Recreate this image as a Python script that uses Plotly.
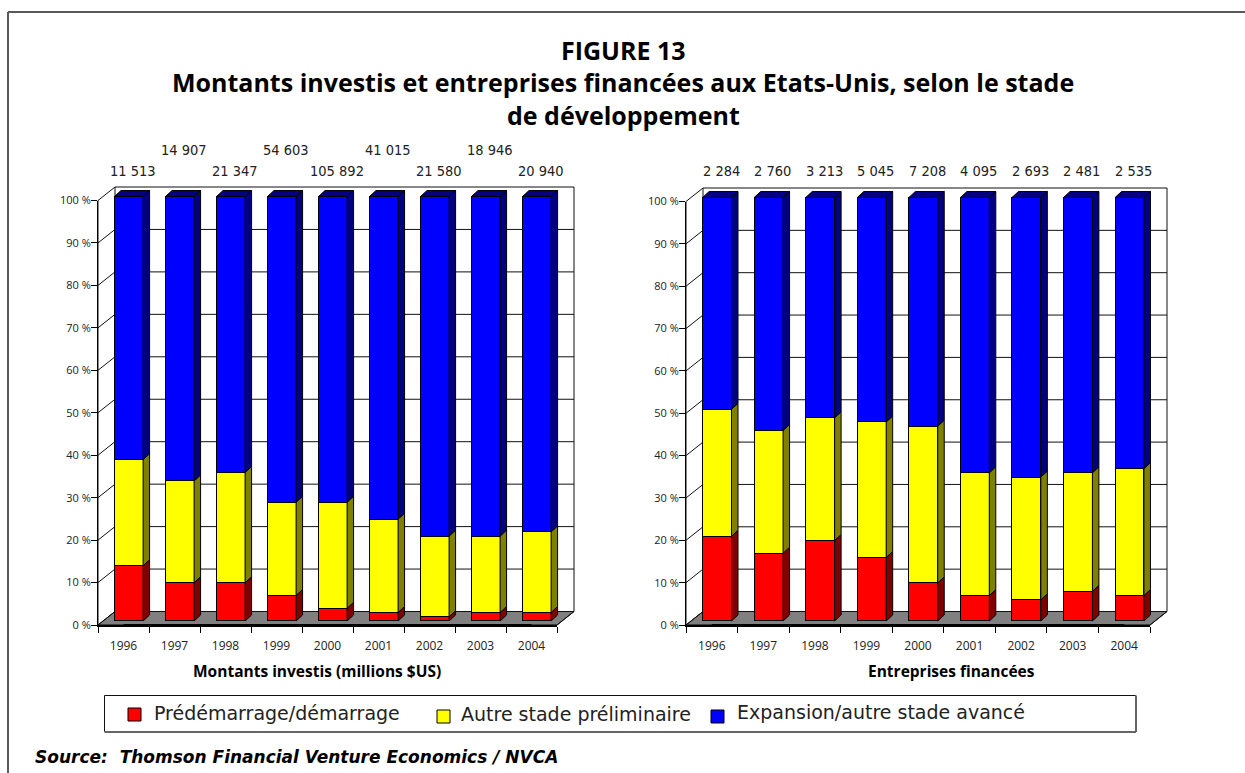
import plotly.graph_objects as go

W, H = 1245, 773
YEARS = ["1996", "1997", "1998", "1999", "2000", "2001", "2002", "2003", "2004"]
SERIES_NAMES = ["Prédémarrage/démarrage", "Autre stade préliminaire", "Expansion/autre stade avancé"]
FRONT_COLORS = ["#ff0000", "#ffff00", "#0000ff"]
SIDE_COLORS = ["#800000", "#808000", "#000080"]

LEFT_RED = [13, 9, 9, 6, 3, 2, 1, 2, 2]
LEFT_YELLOW = [25, 24, 26, 22, 25, 22, 19, 18, 19]
LEFT_BLUE = [62, 67, 65, 72, 72, 76, 80, 80, 79]
LEFT_TOTALS = ["11 513", "14 907", "21 347", "54 603", "105 892", "41 015", "21 580", "18 946", "20 940"]

RIGHT_RED = [20, 16, 19, 15, 9, 6, 5, 7, 6]
RIGHT_YELLOW = [30, 29, 29, 32, 37, 29, 29, 28, 30]
RIGHT_BLUE = [50, 55, 52, 53, 54, 65, 66, 65, 64]
RIGHT_TOTALS = ["2 284", "2 760", "3 213", "5 045", "7 208", "4 095", "2 693", "2 481", "2 535"]

Y_TICKS = list(range(0, 101, 10))
Y_LABELS = [f"{t} %" for t in Y_TICKS]
TICK_FONT = "Open Sans"
TOTAL_FONT = "DejaVu Sans Condensed"
TEXT_FONT = "Open Sans"
INK = "#222222"

fig = go.Figure()
shapes, annotations = [], []


def dx(a, b):
    return [a / W, b / W]


def dy(top, bottom):
    return [1 - bottom / H, 1 - top / H]


def add_chart(first, x0, x1, y100, series, totals, xtitle, xtitle_x, stagger):
    n = len(YEARS)
    step = (x1 - x0) / n
    y0 = 625
    scale = (y0 - y100) / 100
    wall_dx, wall_dy = 17, 13.5
    bar_dx, bar_dy = 5.3, 4
    depth_x, depth_y = 6.5, 6
    bar_w = 0.56

    ids = [first, first + 1, first + 2]
    xn = [f"x{i}" for i in ids]
    yn = [f"y{i}" for i in ids]

    wall_left = -0.5 - wall_dx / step
    wall_low = -wall_dy / scale
    pad = 1.5
    fig.update_layout({
        f"xaxis{ids[0]}": dict(domain=dx(x0 - pad, x1 + wall_dx + pad),
                               range=[wall_left - pad / step, n - 0.5 + pad / step],
                               visible=False, anchor=yn[0]),
        f"yaxis{ids[0]}": dict(domain=dy(y100 - wall_dy - pad, y0 + pad),
                               range=[wall_low - pad / scale, 100 + pad / scale], visible=False, anchor=xn[0]),
    })
    back_l, back_r = wall_left + wall_dx / step, n - 0.5
    front_l, front_r = wall_left, back_r - wall_dx / step
    # floor
    fig.add_trace(go.Scatter(
        x=[back_l, back_r, front_r, front_l, back_l],
        y=[0, 0, wall_low, wall_low, 0], mode="lines", fill="toself", fillcolor="#808080",
        line=dict(color="black", width=1), xaxis=xn[0], yaxis=yn[0], hoverinfo="skip", showlegend=False))
    # walls and gridlines
    gx, gy = [], []
    for t in Y_TICKS:
        gx += [front_l, back_l, back_r, None]
        gy += [t + wall_low, t, t, None]
    gx += [back_l, back_l, None, back_r, back_r, None, back_r, front_r, None, front_l, front_l]
    gy += [0, 100, None, 0, 100, None, 0, wall_low, None, wall_low, 100 + wall_low]
    fig.add_trace(go.Scatter(x=gx, y=gy, mode="lines", line=dict(color="#111111", width=1),
                             xaxis=xn[0], yaxis=yn[0], hoverinfo="skip", showlegend=False))

    # bar plane
    top_extra = depth_y / scale + 1
    fig.update_layout({
        f"xaxis{ids[1]}": dict(domain=dx(x0 + bar_dx, x1 + bar_dx), range=[-0.5, n - 0.5], visible=False,
                               anchor=yn[1], type="linear"),
        f"yaxis{ids[1]}": dict(domain=dy(y100 - bar_dy - top_extra * scale, y0 - bar_dy + pad),
                               range=[-pad / scale, 100 + top_extra], visible=False, anchor=xn[1]),
    })
    xs = list(range(n))
    for k, vals in enumerate(series):
        fig.add_trace(go.Bar(x=xs, y=vals, width=bar_w,
                             marker=dict(color=FRONT_COLORS[k], line=dict(color="black", width=1)),
                             name=SERIES_NAMES[k], xaxis=xn[1], yaxis=yn[1], showlegend=False))
    ox, oy = depth_x / step, depth_y / scale
    for k, vals in enumerate(series):
        px, py = [], []
        for i in xs:
            b = sum(s[i] for s in series[:k])
            t = b + vals[i]
            r = i + bar_w / 2
            px += [r, r + ox, r + ox, r, r, None]
            py += [b, b + oy, t + oy, t, b, None]
        fig.add_trace(go.Scatter(x=px, y=py, mode="lines", fill="toself", fillcolor=SIDE_COLORS[k],
                                 line=dict(color="black", width=1), xaxis=xn[1], yaxis=yn[1],
                                 hoverinfo="skip", showlegend=False))
    px, py = [], []
    for i in xs:
        l, r = i - bar_w / 2, i + bar_w / 2
        t = sum(s[i] for s in series)
        px += [l, r, r + ox, l + ox, l, None]
        py += [t, t, t + oy, t + oy, t, None]
    fig.add_trace(go.Scatter(x=px, y=py, mode="lines", fill="toself", fillcolor=SIDE_COLORS[2],
                             line=dict(color="black", width=1), xaxis=xn[1], yaxis=yn[1],
                             hoverinfo="skip", showlegend=False))

    # front plane: axis lines, ticks, tick labels
    fig.update_layout({
        f"xaxis{ids[2]}": dict(domain=dx(x0, x1), type="category", categoryorder="array", categoryarray=YEARS,
                               range=[-0.5, n - 0.5], tickson="boundaries", ticks="outside", ticklen=6,
                               tickcolor="black", showline=True, linecolor="black", linewidth=2, showgrid=False,
                               tickfont=dict(family=TICK_FONT, size=12, color=INK), anchor=yn[2],
                               ticklabelstandoff=9),
        f"yaxis{ids[2]}": dict(domain=dy(y100, y0), range=[0, 100], tickvals=Y_TICKS, ticktext=Y_LABELS,
                               ticks="outside", ticklen=6, tickcolor="black", showline=True, linecolor="black",
                               linewidth=1, showgrid=False, zeroline=False, ticklabelstandoff=-2,
                               tickfont=dict(family=TICK_FONT, size=11, color=INK), anchor=xn[2]),
    })
    fig.add_trace(go.Scatter(x=YEARS, y=[0] * n, mode="lines", line=dict(color="black", width=2),
                             xaxis=xn[2], yaxis=yn[2], hoverinfo="skip", showlegend=False))

    for i, t in enumerate(totals):
        annotations.append(dict(x=i, xref=xn[1], xshift=4, y=1 - (150 if (stagger and i % 2) else 171) / H, yref="paper",
                                text=t, showarrow=False, font=dict(family=TOTAL_FONT, size=14.5, color=INK),
                                xanchor="center", yanchor="middle"))
    annotations.append(dict(x=xtitle_x / W, xref="paper", y=1 - 671 / H, yref="paper", text=f"<b>{xtitle}</b>",
                            showarrow=False, font=dict(family=TEXT_FONT, size=15.5, color="black"),
                            xanchor="center", yanchor="middle"))


add_chart(1, 98, 557, 200.5, [LEFT_RED, LEFT_YELLOW, LEFT_BLUE], LEFT_TOTALS,
          "Montants investis (millions $US)", 317, True)
add_chart(4, 686, 1150, 201.5, [RIGHT_RED, RIGHT_YELLOW, RIGHT_BLUE], RIGHT_TOTALS,
          "Entreprises financées", 951.5, False)

GREY = "#595959"
shapes.append(dict(type="line", xref="paper", yref="paper", x0=8 / W, x1=1, y0=1 - 12 / H, y1=1 - 12 / H,
                   line=dict(color=GREY, width=2)))
shapes.append(dict(type="line", xref="paper", yref="paper", x0=8 / W, x1=8 / W, y0=1 - 12 / H, y1=0,
                   line=dict(color=GREY, width=2)))
# legend box
shapes.append(dict(type="rect", xref="paper", yref="paper", x0=104.5 / W, x1=1135.5 / W, y0=1 - 731.5 / H, y1=1 - 695.5 / H,
                   line=dict(color="#111111", width=1), fillcolor="white"))
shapes.append(dict(type="line", xref="paper", yref="paper", x0=104.5 / W, x1=1136 / W, y0=1 - 732 / H, y1=1 - 732 / H,
                   line=dict(color="#666666", width=2)))
shapes.append(dict(type="line", xref="paper", yref="paper", x0=1136 / W, x1=1136 / W, y0=1 - 732 / H, y1=1 - 695.5 / H,
                   line=dict(color="#666666", width=2)))
LEGEND_SWATCH = [(128, 708), (437, 710), (711, 710)]
LEGEND_TEXT = [(151.5, 713), (458.5, 714), (735.5, 711.5)]
for k, name in enumerate(SERIES_NAMES):
    sx, sy = LEGEND_SWATCH[k]
    shapes.append(dict(type="rect", xref="paper", yref="paper", x0=sx / W, x1=(sx + 13) / W,
                       y0=1 - (sy + 13) / H, y1=1 - sy / H, line=dict(color="black", width=1), fillcolor=FRONT_COLORS[k]))
    annotations.append(dict(x=LEGEND_TEXT[k][0] / W, xref="paper", y=1 - LEGEND_TEXT[k][1] / H, yref="paper", text=name,
                            showarrow=False, font=dict(family="DejaVu Sans", size=19, color=INK),
                            xanchor="left", yanchor="middle"))

TITLE_LINES = ["FIGURE 13", "Montants investis et entreprises financées aux Etats-Unis, selon le stade", "de développement"]
for line, yy in zip(TITLE_LINES, [50, 82, 115]):
    annotations.append(dict(x=623 / W, xref="paper", y=1 - yy / H, yref="paper", text=f"<b>{line}</b>", showarrow=False,
                            font=dict(family=TEXT_FONT, size=25, color="black"), xanchor="center", yanchor="middle"))
annotations.append(dict(x=33 / W, xref="paper", y=1 - 757 / H, yref="paper",
                        text="<b><i>Source:  Thomson Financial Venture Economics / NVCA</i></b>", showarrow=False,
                        font=dict(family="DejaVu Sans", size=17, color="black"), xanchor="left", yanchor="middle"))

fig.update_layout(width=W, height=H, margin=dict(l=0, r=0, t=0, b=0, autoexpand=False), autosize=False, barmode="stack",
                  paper_bgcolor="white", plot_bgcolor="rgba(0,0,0,0)", shapes=shapes, annotations=annotations,
                  showlegend=False)
fig.write_html("out.html", config=dict(displayModeBar=False), post_script="document.body.style.margin='0';")
